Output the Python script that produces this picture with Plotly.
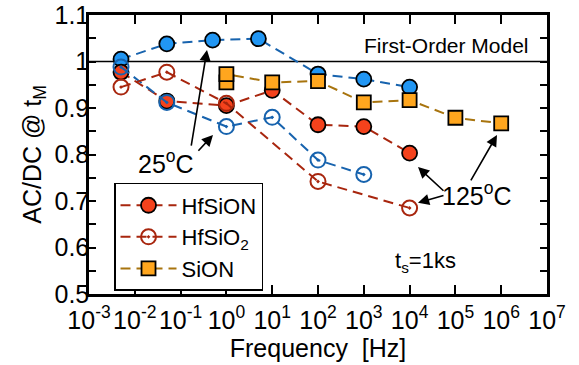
import plotly.graph_objects as go

# ---- data ----
f_hfsion_25 = [0.005, 0.05, 0.5, 5, 100, 1000, 10000]
v_hfsion_25 = [1.005, 1.038, 1.046, 1.049, 0.973, 0.962, 0.945]

f_hfsion_125 = [0.005, 0.05, 1, 10, 100, 1000, 10000]
v_hfsion_125 = [0.977, 0.915, 0.905, 0.938, 0.864, 0.860, 0.803]

f_hfsio2_25 = [0.005, 0.05, 1, 10, 100, 1000]
v_hfsio2_25 = [0.988, 0.912, 0.860, 0.880, 0.788, 0.757]

f_hfsio2_125 = [0.005, 0.05, 1, 100, 10000]
v_hfsio2_125 = [0.945, 0.977, 0.910, 0.742, 0.685]

f_sion = [1, 1, 10, 100, 1000, 10000, 1e5, 1e6]
v_sion = [0.955, 0.973, 0.955, 0.958, 0.912, 0.917, 0.879, 0.867]

x_tick_exp = [-3, -2, -1, 0, 1, 2, 3, 4, 5, 6, 7]
y_ticks = [0.5, 0.55, 0.6, 0.65, 0.7, 0.75, 0.8, 0.85, 0.9, 0.95, 1.0, 1.05, 1.1]
y_labels = ["0.5", "", "0.6", "", "0.7", "", "0.8", "", "0.9", "", "1", "", "1.1"]

FONT = "Liberation Sans, Arial, sans-serif"
BLUE_FILL = "#2196F3"
BLUE_LINE = "#1763AE"
RED_FILL = "#F4421C"
RED_LINE = "#A8260E"
ORG_FILL = "#FFA61E"
ORG_LINE = "#A8740E"
DASH = "10px,6px"

fig = go.Figure()

fig.add_trace(go.Scatter(
    x=f_hfsion_25, y=v_hfsion_25, mode="lines+markers", showlegend=False,
    line=dict(color=BLUE_LINE, width=2, dash=DASH),
    marker=dict(symbol="circle", size=15, color=BLUE_FILL, line=dict(color="black", width=1.8))))

fig.add_trace(go.Scatter(
    x=f_hfsion_125, y=v_hfsion_125, mode="lines+markers", name="HfSiON",
    line=dict(color=RED_LINE, width=2, dash=DASH),
    marker=dict(symbol="circle", size=15, color=RED_FILL, line=dict(color="black", width=1.8))))

fig.add_trace(go.Scatter(
    x=f_hfsio2_25, y=v_hfsio2_25, mode="lines+markers", showlegend=False,
    line=dict(color=BLUE_LINE, width=2, dash=DASH),
    marker=dict(symbol="circle-open-dot", size=15, color=BLUE_LINE, line=dict(color=BLUE_LINE, width=2))))

fig.add_trace(go.Scatter(
    x=f_hfsio2_125, y=v_hfsio2_125, mode="lines+markers", name="HfSiO<sub>2</sub>",
    line=dict(color=RED_LINE, width=2, dash=DASH),
    marker=dict(symbol="circle-open-dot", size=15, color=RED_LINE, line=dict(color=RED_LINE, width=2))))

fig.add_trace(go.Scatter(
    x=f_sion, y=v_sion, mode="lines+markers", name="SiON",
    line=dict(color=ORG_LINE, width=2, dash=DASH),
    marker=dict(symbol="square", size=14, color=ORG_FILL, line=dict(color="black", width=1.8))))

# first-order model line
fig.add_shape(type="line", xref="paper", x0=0, x1=1, yref="y", y0=1.0, y1=1.0,
              line=dict(color="black", width=1.5), layer="below")

annots = [
    dict(x=4.8, y=1.035, text="First-Order Model", showarrow=False,
         font=dict(size=21)),
    dict(x=-1.32, y=0.784, text="25<sup>o</sup>C", showarrow=False, font=dict(size=25)),
    dict(x=5.47, y=0.715, text="125<sup>o</sup>C", showarrow=False, font=dict(size=25)),
    dict(x=4.34, y=0.569, text="t<sub>s</sub>=1ks", showarrow=False, font=dict(size=22)),
]
arrows = [
    ((-0.773, 0.816), (-0.424, 1.025)),
    ((-0.642, 0.805), (-0.293, 0.842)),
    ((4.773, 0.719), (4.183, 0.773)),
    ((4.773, 0.713), (4.183, 0.696)),
    ((5.319, 0.741), (5.908, 0.842)),
]
for (tx, ty), (hx, hy) in arrows:
    annots.append(dict(x=hx, y=hy, ax=tx, ay=ty, axref="x", ayref="y", xref="x", yref="y",
                       text="", showarrow=True, arrowhead=2, arrowsize=1.4,
                       arrowwidth=1.6, arrowcolor="black"))

fig.update_layout(
    width=579, height=365,
    margin=dict(l=89, r=32, t=15, b=71),
    paper_bgcolor="white", plot_bgcolor="white",
    font=dict(family=FONT, size=24, color="black"),
    annotations=annots,
    legend=dict(x=0.0546, y=0.398, xanchor="left", yanchor="top",
                bgcolor="white", bordercolor="black", borderwidth=1.5,
                font=dict(size=22), tracegroupgap=0, itemwidth=56),
    xaxis=dict(type="log", range=[-3, 7], automargin=False,
               tickvals=[10 ** e for e in x_tick_exp],
               ticktext=["10<sup>%d</sup>" % e for e in x_tick_exp],
               ticks="inside", ticklen=9, tickwidth=2, tickcolor="black",
               showline=True, linewidth=2.5, linecolor="black", mirror="ticks",
               showgrid=False, zeroline=False, ticklabelstandoff=2,
               title=dict(text="Frequency &nbsp;[Hz]", font=dict(size=25), standoff=0),
               tickfont=dict(size=25)),
    yaxis=dict(range=[0.5, 1.1], tickvals=y_ticks, ticktext=y_labels, automargin=False,
               ticks="inside", ticklen=7, tickwidth=2, tickcolor="black",
               showline=True, linewidth=2.5, linecolor="black", mirror="ticks",
               showgrid=False, zeroline=False, ticklabelstandoff=-8,
               title=dict(text="AC/DC @ t<sub>M</sub>", font=dict(size=25), standoff=6),
               tickfont=dict(size=25)),
)

fig.write_html("out.html")
